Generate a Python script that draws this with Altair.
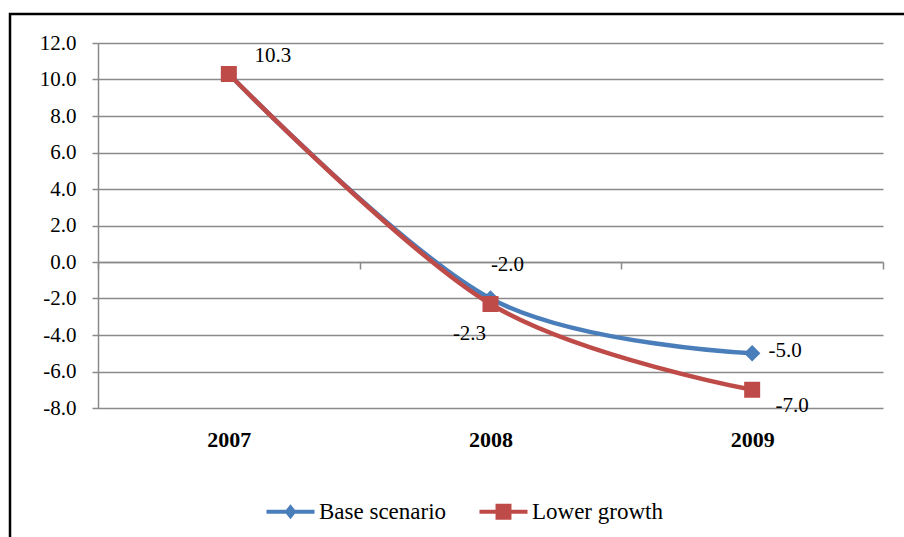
import altair as alt
import pandas as pd

# ---- data -------------------------------------------------------------
years = ["2007", "2008", "2009"]
series_names = ["Base scenario", "Lower growth"]
base_values = [10.3, -2.0, -5.0]
lower_values = [10.3, -2.3, -7.0]
y_ticks = [-8, -6, -4, -2, 0, 2, 4, 6, 8, 10, 12]

rows = []
for name, vals in zip(series_names, [base_values, lower_values]):
    for yr, v in zip(years, vals):
        rows.append({"year": yr, "series": name, "value": v, "label": f"{v:.1f}"})
df = pd.DataFrame(rows)

# ---- styling ----------------------------------------------------------
FONT = "Liberation Serif"
GRID = "#8A8A8A"
COLORS = ["#4A7EBB", "#BE4B48"]
MARKERS = [("diamond", 272), ("square", 256)]

# data label offsets (dx, dy) in pixels from each marker
label_offsets = {
    ("Lower growth", "2007"): (44, -18),
    ("Base scenario", "2008"): (17, -34),
    ("Lower growth", "2008"): (-21, 30),
    ("Base scenario", "2009"): (33, -2),
    ("Lower growth", "2009"): (40, 16),
}

# legend glyphs: a short line with the series marker on it
legend_paths = [
    "M-3.43,-0.28L3.43,-0.28L3.43,0.28L-3.43,0.28Z M0,-1.07L0.86,0L0,1.07L-0.86,0Z",
    "M-3.43,-0.28L3.43,-0.28L3.43,0.28L-3.43,0.28Z M-1.14,-1.14L1.14,-1.14L1.14,1.14L-1.14,1.14Z",
]

PLOT_W, PLOT_H = 785, 365
Y_MIN, Y_MAX = -8, 12
zero_offset = PLOT_H * (0 - Y_MIN) / (Y_MAX - Y_MIN)  # distance of y=0 from bottom

x_enc = alt.X(
    "year:N",
    sort=years,
    scale=alt.Scale(type="band", domain=years, paddingInner=0, paddingOuter=0),
    axis=alt.Axis(
        title=None, orient="bottom", offset=-zero_offset,
        domainColor=GRID, domainWidth=1.5,
        tickColor=GRID, tickWidth=1.5, tickSize=7, tickBand="extent",
        labelFont=FONT, labelFontSize=22, labelFontWeight="bold",
        labelColor="black", labelPadding=160, labelAngle=0, grid=False,
    ),
)
y_enc = alt.Y(
    "value:Q",
    scale=alt.Scale(domain=[Y_MIN, Y_MAX], nice=False, zero=False),
    axis=alt.Axis(
        title=None, values=y_ticks,
        labelExpr="(datum.value < 0 ? '-' : '') + format(abs(datum.value), '.1f')",
        domainColor=GRID, domainWidth=1.5,
        tickColor=GRID, tickWidth=1.5, tickSize=6,
        labelFont=FONT, labelFontSize=21, labelColor="black", labelPadding=16,
        grid=True, gridColor=GRID, gridWidth=1.5,
    ),
)

legend_props = dict(
    title=None, orient="none", legendX=181, legendY=457, direction="horizontal",
    symbolSize=196, symbolOpacity=1, symbolStrokeWidth=0,
    labelOffset=17, columnPadding=32, padding=0,
    labelFont=FONT, labelFontSize=23, labelColor="black",
)

base = alt.Chart(df)

# one line + marker layer per series, drawn in series order
series_layers = []
for name, color, (shape, size) in zip(series_names, COLORS, MARKERS):
    sub = base.transform_filter(alt.datum.series == name)
    series_layers.append(
        sub.mark_line(interpolate="cardinal", strokeWidth=4.5, color=color)
        .encode(x=x_enc, y=y_enc)
    )
    series_layers.append(
        sub.mark_point(shape=shape, filled=True, size=size, opacity=1, color=color)
        .encode(x=x_enc, y=y_enc)
    )

# legend-only layer (no marks drawn; entries come from the scale domains)
legend_layer = base.transform_filter("false").mark_point(filled=True, opacity=1).encode(
    x=x_enc, y=y_enc,
    color=alt.Color("series:N", scale=alt.Scale(domain=series_names, range=COLORS),
                    legend=alt.Legend(**legend_props)),
    shape=alt.Shape("series:N", scale=alt.Scale(domain=series_names, range=legend_paths),
                    legend=alt.Legend(**legend_props)),
)

label_layers = []
for (name, yr), (dx, dy) in label_offsets.items():
    label_layers.append(
        base.transform_filter((alt.datum.series == name) & (alt.datum.year == yr))
        .mark_text(font=FONT, fontSize=21, color="black", align="center",
                   baseline="middle", dx=dx, dy=dy)
        .encode(x=x_enc, y=y_enc, text="label:N")
    )

# outer frame around the whole figure
frame = alt.Chart(alt.Data(values=[{"f": 1}])).mark_rect(
    fill="transparent", stroke="black", strokeWidth=2.5
).encode(
    x=alt.value(-88), x2=alt.value(816), y=alt.value(-29), y2=alt.value(504)
)

chart = alt.layer(
    frame, *series_layers, legend_layer, *label_layers
).properties(
    width=PLOT_W, height=PLOT_H,
    autosize=alt.AutoSizeParams(type="none"),
    padding={"left": 98, "top": 43, "right": 21, "bottom": 129},
).configure(
    background="white", font=FONT
).configure_view(stroke=None).configure_legend(labelFont=FONT)

chart.save("out.html", embed_options={"renderer": "svg", "actions": False})
